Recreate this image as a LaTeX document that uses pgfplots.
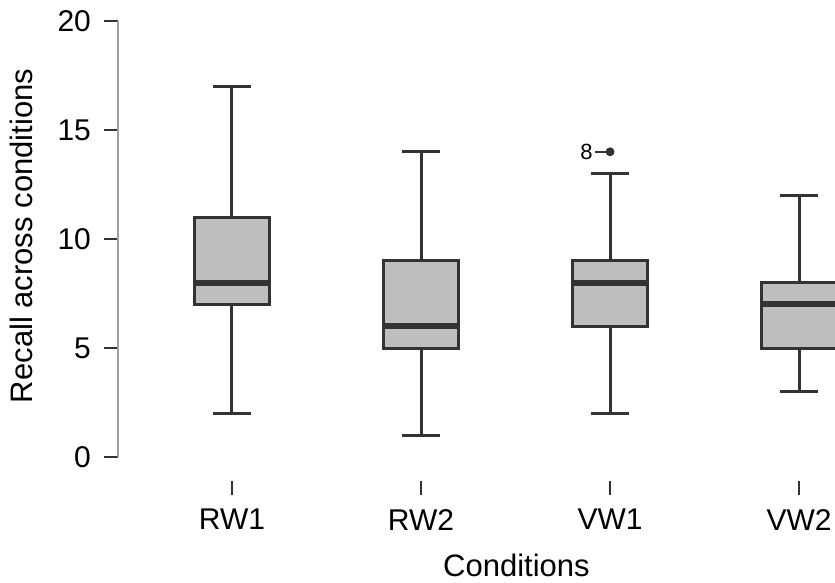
\documentclass[border=0pt]{standalone}
\usepackage{fontspec}
\setmainfont{Liberation Sans}
\usepackage{pgfplots}
\usepgfplotslibrary{statistics}
\pgfplotsset{compat=1.18}
\definecolor{boxgray}{RGB}{190,190,190}
\definecolor{linegray}{RGB}{51,51,51}
\definecolor{axisgray}{RGB}{160,160,160}

\begin{document}
\begin{tikzpicture}
\begin{axis}[
    name=ax,
    scale only axis,
    width=358.5pt, height=230pt,
    xmin=0.397, xmax=4.19,
    ymin=-1.1, ymax=20,
    clip mode=individual,
    axis lines*=left,
    x axis line style={draw=none},
    y axis line style={draw=none},
    xtick={1,2,3,4},
    xticklabels={RW1,RW2,VW1,VW2},
    ytick={0,5,10,15,20},
    tick align=outside,
    major tick length=7pt,
    xtick style={linegray, line width=0.6pt},
    ytick style={linegray, line width=0.8pt},
    ticklabel style={font=\fontsize{15}{17}\selectfont},
    /pgf/number format/assume math mode=true,
    yticklabel style={xshift=-3pt},
    xticklabel style={yshift=-3.5pt},
    boxplot/draw direction=y,
    boxplot/box extend=0.4,
    boxplot/whisker extend=0.2,
    boxplot/every box/.style={draw=linegray, line width=1.5pt, fill=boxgray},
    boxplot/every whisker/.style={draw=linegray, line width=1.5pt},
    boxplot/every median/.style={draw=linegray, line width=3pt},
]
\addplot[boxplot prepared={draw position=1, lower whisker=2, lower quartile=7,
    median=8, upper quartile=11, upper whisker=17}] coordinates {};
\addplot[boxplot prepared={draw position=2, lower whisker=1, lower quartile=5,
    median=6, upper quartile=9, upper whisker=14}] coordinates {};
\addplot[boxplot prepared={draw position=3, lower whisker=2, lower quartile=6,
    median=8, upper quartile=9, upper whisker=13},
    mark=*, mark size=2pt, mark options={draw=linegray, fill=linegray}]
    coordinates {(0,14)};
\addplot[boxplot prepared={draw position=4, lower whisker=3, lower quartile=5,
    median=7, upper quartile=8, upper whisker=12}] coordinates {};

% y axis line only spans 0..20
\draw[axisgray, line width=0.8pt] (axis cs:0.397,0) -- (axis cs:0.397,20);
% outlier label
\draw[linegray, line width=0.9pt] ([xshift=-7.5pt]axis cs:3,14) -- ([xshift=-1pt]axis cs:3,14);
\node[font=\fontsize{11}{12}\selectfont, anchor=east, inner sep=0pt] at ([xshift=-8.5pt]axis cs:3,14) {8};
% axis labels
\node[rotate=90, anchor=base, font=\fontsize{15.5}{18}\selectfont] at ([xshift=-42.5pt]axis cs:0.397,10.14) {Recall across conditions};
\node[anchor=base, font=\fontsize{15.5}{18}\selectfont] at ([yshift=-47.5pt]axis cs:2.505,-1.1) {Conditions};
\end{axis}
\pgfresetboundingbox
\path[use as bounding box] ([xshift=-59pt,yshift=-51pt]ax.south west) rectangle ([yshift=10.5pt]ax.north east);
\end{tikzpicture}
\end{document}
